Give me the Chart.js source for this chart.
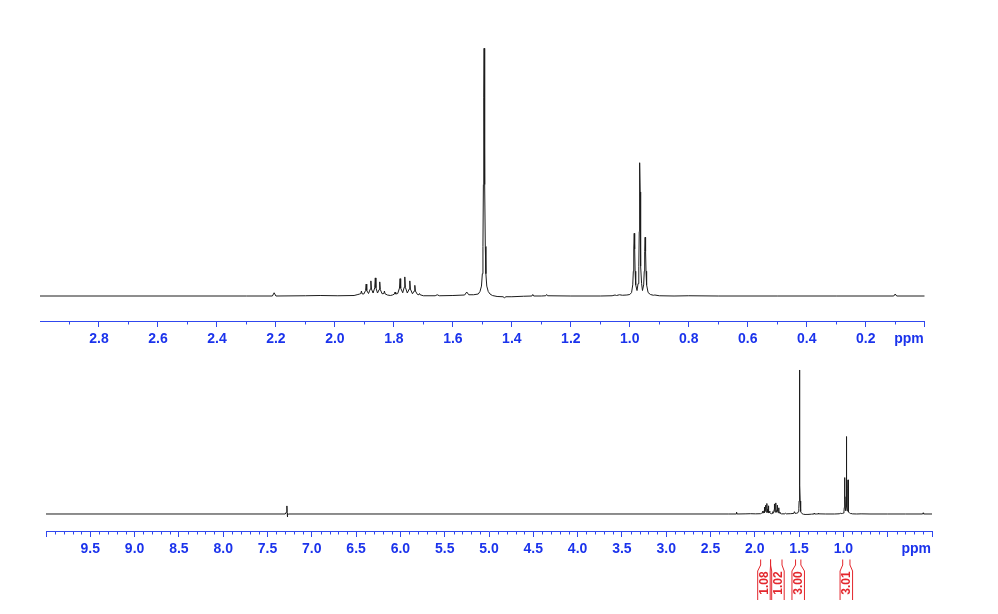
<!DOCTYPE html>
<html><head><meta charset="utf-8">
<script src="https://cdn.jsdelivr.net/npm/chart.js@4.4.1/dist/chart.umd.min.js"></script>
<style>
html,body{margin:0;padding:0;background:#fff;}
#wrap{position:relative;width:998px;height:614px;overflow:hidden;background:#fff;}
canvas{position:absolute;left:0;}
#top{top:0;} #bot{top:360px;}
</style></head><body>
<div id="wrap"><canvas id="top" width="998" height="360"></canvas><canvas id="bot" width="998" height="254"></canvas></div>
<script>
// ---- data (ppm, relative intensity; tallest singlet = 100) ----
const specPpm = [
10.000, 7.300, 7.284, 7.281, 7.278, 7.276, 7.272, 7.260,
2.300, 2.212, 2.206, 2.200, 2.100, 2.050, 1.990, 1.935, 1.922,
1.916, 1.912, 1.910, 1.908, 1.902, 1.896, 1.894, 1.892, 1.886, 1.880, 1.878, 1.876, 1.8705,
1.865, 1.863, 1.861, 1.8555, 1.850, 1.848, 1.846, 1.840, 1.834, 1.832, 1.830, 1.822, 1.812,
1.805, 1.798, 1.796, 1.794, 1.787, 1.781, 1.779, 1.777, 1.770, 1.765, 1.763, 1.761, 1.7545,
1.748, 1.746, 1.744, 1.737, 1.731, 1.729, 1.727, 1.720, 1.715, 1.713, 1.711, 1.700,
1.660, 1.653, 1.646, 1.600, 1.560, 1.553, 1.546, 1.530,
1.514, 1.508, 1.503, 1.500, 1.498, 1.4965, 1.4952, 1.494, 1.4928, 1.4915, 1.490, 1.488, 1.485, 1.480, 1.474, 1.466,
1.450, 1.430, 1.425, 1.420, 1.400, 1.360, 1.332, 1.329, 1.326, 1.300, 1.285, 1.282, 1.279,
1.200, 1.100, 1.060, 1.050, 1.045, 1.035, 1.025, 1.010,
1.000, 0.994, 0.990, 0.988, 0.9865, 0.985, 0.9835, 0.982, 0.980, 0.9755,
0.972, 0.9695, 0.968, 0.9672, 0.966, 0.9648, 0.964, 0.9625, 0.960, 0.957,
0.953, 0.951, 0.9495, 0.948, 0.9465, 0.945, 0.943, 0.938, 0.930, 0.920, 0.915, 0.900,
0.850, 0.800, 0.700, 0.500, 0.300, 0.105, 0.100, 0.095, 0.000
];
const specInt = [
0, 0, 1.5, 5.6, 0.5, -2.1, -0.6, 0,
0, 0, 1.3, 0, 0.1, 0.2, 0.1, 0.2, 0.6,
0.8, 1.0, 2.0, 0.9, 0.8, 2.2, 4.8, 2.2, 1.0, 2.8, 6.1, 2.8, 1.2,
3.3, 7.3, 3.3, 1.2, 2.6, 5.7, 2.6, 0.9, 1.0, 2.0, 0.9, 0.4, 0.2,
0.4, 0.8, 1.6, 0.8, 1.0, 3.2, 7.0, 3.2, 1.3, 3.5, 7.7, 3.5, 1.2,
2.8, 6.1, 2.8, 0.9, 2.0, 4.3, 2.0, 0.6, 0.5, 1.0, 0.5, 0.1,
0.1, 0.5, 0.1, 0.2, 0.4, 1.6, 0.5, 0.5,
0.8, 1.8, 4, 9, 20, 45, 80, 100, 80, 45, 20, 9, 4, 1.8, 0.8, 0.2,
-0.2, -0.3, -0.7, -0.3, -0.3, -0.1, 0, 0.6, 0, 0, 0.1, 0.6, 0.1,
0, 0, 0.1, 0.4, 0.2, 0.5, 0.3, 0.4,
0.6, 1.4, 4.5, 10, 19, 25.3, 19, 10, 4.5, 2.2,
5, 12, 26, 42, 53.8, 42, 26, 12, 5, 2.2,
4.5, 10, 18, 23.7, 18, 10, 4.5, 1.4, 0.6, 0.3, 0.4, 0.1,
0, 0.1, 0, 0, 0, 0, 0.8, 0, 0
];
const topTickLabels = ['2.8','2.6','2.4','2.2','2.0','1.8','1.6','1.4','1.2','1.0','0.8','0.6','0.4','0.2'];
const botTickLabels = ['9.5','9.0','8.5','8.0','7.5','7.0','6.5','6.0','5.5','5.0','4.5','4.0','3.5','3.0','2.5','2.0','1.5','1.0'];
const integralLabels = ['1.08','1.02','3.00','3.01'];
const integralFrom = [1.934, 1.822, 1.540, 1.008];
const integralTo   = [1.822, 1.693, 1.480, 0.926];
const axisUnit = 'ppm';

// ---- styles ----
const BLUE = '#1b33ec', AXIS = '#3047ee', RED = '#e3262c', INK = '#1c1c1c';
const FONT = "'Liberation Sans', Arial, Helvetica, sans-serif";
const LABEL_PAD = 4;
const points = specPpm.map((p, i) => ({x: p, y: specInt[i]}));

function isMult(v, step) { const r = v / step; return Math.abs(r - Math.round(r)) < 1e-6; }

const axisDecor = {
  id: 'axisDecor',
  afterDraw(chart, args, opts) {
    const {ctx, chartArea} = chart; const xs = chart.scales.x;
    const y0 = chartArea.bottom;
    ctx.save();
    ctx.strokeStyle = AXIS; ctx.lineWidth = 1;
    ctx.beginPath();
    const n = Math.round((xs.max - xs.min) / opts.minor);
    for (let i = 0; i <= n; i++) {
      const v = xs.min + i * opts.minor;
      if (isMult(v, opts.major)) continue;
      const px = Math.round(xs.getPixelForValue(v)) + 0.5;
      ctx.moveTo(px, y0); ctx.lineTo(px, y0 + 3.5);
    }
    ctx.stroke();
    ctx.fillStyle = BLUE; ctx.font = 'bold 14px ' + FONT;
    ctx.textAlign = 'right'; ctx.textBaseline = 'middle';
    ctx.fillText(axisUnit, xs.right - 1, y0 + 6 + LABEL_PAD + 8.4);
    ctx.restore();
  }
};

const integrals = {
  id: 'integrals',
  afterDraw(chart) {
    const {ctx} = chart; const xs = chart.scales.x; const base = chart.chartArea.bottom;
    const yTop = base + 28.5, yB1 = base + 34, yB2 = base + 40, yEnd = base + 69, yText = base + 52;
    const half = 6.25, gap = 1.5;
    const boxes = integralLabels.map((l, i) => {
      const a = xs.getPixelForValue(integralFrom[i]), b = xs.getPixelForValue(integralTo[i]);
      return {l, a, b, c: (a + b) / 2};
    }).sort((p, q) => p.c - q.c);
    for (let i = 1; i < boxes.length; i++) {
      const p = boxes[i - 1], q = boxes[i];
      const ov = (p.c + half + gap) - (q.c - half);
      if (ov > 0) { p.c -= ov / 2; q.c += ov / 2; }
    }
    ctx.save();
    ctx.strokeStyle = RED; ctx.lineWidth = 1;
    boxes.forEach(bx => {
      ctx.beginPath();
      ctx.moveTo(bx.a, yTop); ctx.lineTo(bx.a, yB1); ctx.lineTo(bx.c - half, yB2); ctx.lineTo(bx.c - half, yEnd);
      ctx.moveTo(bx.b, yTop); ctx.lineTo(bx.b, yB1); ctx.lineTo(bx.c + half, yB2); ctx.lineTo(bx.c + half, yEnd);
      ctx.stroke();
      ctx.save();
      ctx.translate(bx.c, yText); ctx.rotate(-Math.PI / 2);
      ctx.fillStyle = RED; ctx.font = 'bold 12px ' + FONT;
      ctx.textAlign = 'center'; ctx.textBaseline = 'middle';
      ctx.fillText(bx.l, 0, 0.5);
      ctx.restore();
    });
    ctx.restore();
  }
};

function makeChart(id, o) {
  return new Chart(document.getElementById(id), {
    type: 'scatter',
    data: {datasets: [{data: points, showLine: true, borderColor: INK, borderWidth: 1, pointRadius: 0, tension: 0}]},
    options: {
      responsive: false, animation: false, events: [],
      layout: {padding: o.padding},
      plugins: {legend: {display: false}, tooltip: {enabled: false}, axisDecor: {minor: 0.1, major: o.step}},
      scales: {
        x: {
          type: 'linear', min: 0, max: o.xmax, reverse: true,
          afterFit: s => { s.height = o.axisH; },
          border: {display: true, color: AXIS, width: 1},
          grid: {drawOnChartArea: false, drawTicks: true, tickLength: 6,
                 tickColor: c => (o.hideFirstTick && c.tick && Math.abs(c.tick.value - o.xmax) < 1e-6) ? 'rgba(0,0,0,0)' : AXIS},
          ticks: {stepSize: o.step, autoSkip: false, maxRotation: 0, padding: LABEL_PAD, color: BLUE,
                  font: {family: FONT, size: 14, weight: 'bold'},
                  callback: v => { const s = Number(v).toFixed(1); return o.labels.includes(s) ? s : ''; }}
        },
        y: {display: false, min: o.ymin, max: o.ymax}
      }
    },
    plugins: o.extra ? [axisDecor, o.extra] : [axisDecor]
  });
}

makeChart('top', {padding: {left: 40, right: 73.3, top: 30, bottom: 0}, axisH: 39, xmax: 3, step: 0.2,
  labels: topTickLabels, ymin: -10.093, ymax: 107.39, hideFirstTick: true});
makeChart('bot', {padding: {left: 46, right: 66, top: 5, bottom: 0}, axisH: 83, xmax: 10, step: 0.5,
  labels: botTickLabels, ymin: -11.806, ymax: 103.47, hideFirstTick: false, extra: integrals});
</script>
</body></html>
